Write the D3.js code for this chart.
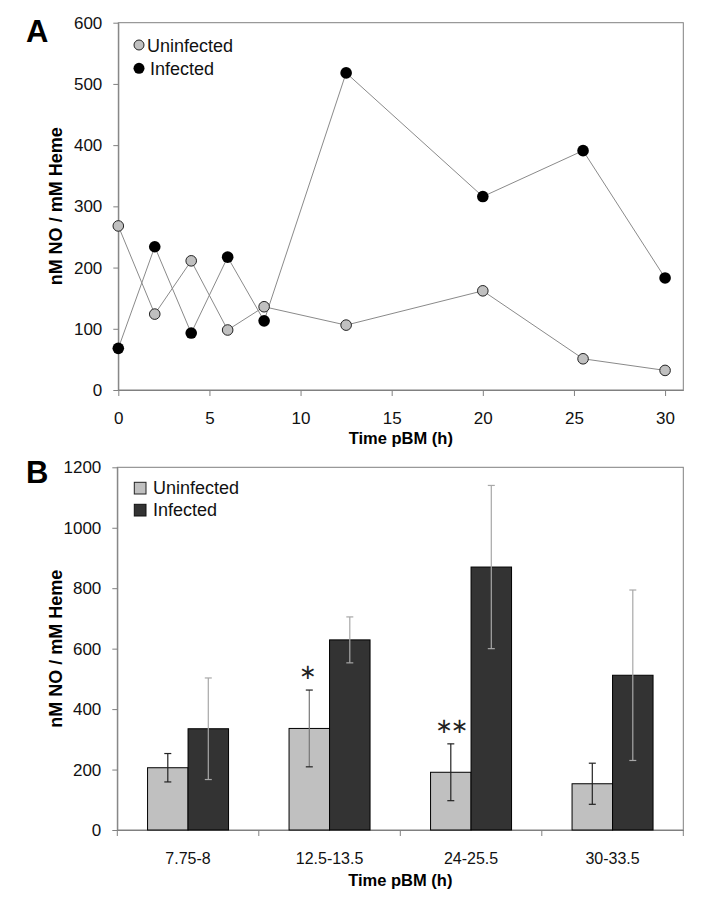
<!DOCTYPE html>
<html>
<head>
<meta charset="utf-8">
<script src="https://cdn.jsdelivr.net/npm/d3@7"></script>
<style>
  html, body { margin: 0; padding: 0; background: #fff; }
  svg { display: block; font-family: "Liberation Sans", Arial, sans-serif; }
</style>
</head>
<body>
<svg id="chart" width="703" height="911"></svg>
<script>
// ---------- Panel A data ----------
const timesA = [0, 2, 4, 6, 8, 12.5, 20, 25.5, 30];
const uninfectedA = [268, 124, 211, 98, 136, 106, 162, 51, 32];
const infectedA = [68, 234, 93, 217, 113, 518, 316, 391, 183];
const yTicksA = [0, 100, 200, 300, 400, 500, 600];
const xTicksA = [0, 5, 10, 15, 20, 25, 30];

// ---------- Panel B data ----------
const categoriesB = ["7.75-8", "12.5-13.5", "24-25.5", "30-33.5"];
const seriesB = ["Uninfected", "Infected"];
const uninfectedB = [206, 336, 191, 153];
const uninfectedErrB = [47, 127, 94, 68];
const infectedB = [335, 629, 870, 512];
const infectedErrB = [168, 76, 270, 282];
const significanceB = ["", "*", "**", ""];
const yTicksB = [0, 200, 400, 600, 800, 1000, 1200];

const svg = d3.select("#chart");
const axisColor = "#808080";
const lightFill = "#c0c0c0";
const darkFill = "#333333";
const fmt = d3.format("d");

function styleAxis(g) {
  g.select(".domain").attr("stroke", axisColor);
  g.selectAll(".tick line").attr("stroke", axisColor);
  g.selectAll(".tick text").attr("fill", "#111").style("font-size", "17px")
    .style("font-family", "'Liberation Sans', Arial, sans-serif");
}

// ================= Panel A =================
const A = { left: 118.3, right: 683.3, top: 22.7, bottom: 390 };
const xA = d3.scaleLinear().domain([0, 31]).range([A.left, A.right]);
const yA = d3.scaleLinear().domain([0, 600]).range([A.bottom, A.top]);

svg.append("rect").attr("x", A.left).attr("y", A.top)
  .attr("width", A.right - A.left).attr("height", A.bottom - A.top)
  .attr("fill", "none").attr("stroke", axisColor);

svg.append("g").attr("transform", `translate(0,${A.bottom})`)
  .call(d3.axisBottom(xA).tickValues(xTicksA).tickFormat(fmt).tickSize(6).tickPadding(16).tickSizeOuter(0))
  .call(styleAxis);
svg.append("g").attr("transform", `translate(${A.left},0)`)
  .call(d3.axisLeft(yA).tickValues(yTicksA).tickFormat(fmt).tickSize(5).tickPadding(11).tickSizeOuter(0))
  .call(styleAxis);

const lineA = d3.line().x(d => xA(d[0])).y(d => yA(d[1]));
const uData = timesA.map((t, i) => [t, uninfectedA[i]]);
const iData = timesA.map((t, i) => [t, infectedA[i]]);

svg.append("path").datum(uData).attr("d", lineA)
  .attr("fill", "none").attr("stroke", "#8a8a8a").attr("stroke-width", 1);
svg.append("path").datum(iData).attr("d", lineA)
  .attr("fill", "none").attr("stroke", "#8a8a8a").attr("stroke-width", 1);

svg.append("g").selectAll("circle").data(uData).join("circle")
  .attr("cx", d => xA(d[0])).attr("cy", d => yA(d[1])).attr("r", 5.3)
  .attr("fill", lightFill).attr("stroke", "#222").attr("stroke-width", 1);
svg.append("g").selectAll("circle").data(iData).join("circle")
  .attr("cx", d => xA(d[0])).attr("cy", d => yA(d[1])).attr("r", 5.8)
  .attr("fill", "#000");

// legend A
const legA = svg.append("g");
legA.append("circle").attr("cx", 139).attr("cy", 45).attr("r", 5)
  .attr("fill", lightFill).attr("stroke", "#222");
legA.append("text").attr("x", 147).attr("y", 51.7).text(seriesB[0])
  .style("font-size", "18px").attr("fill", "#111");
legA.append("circle").attr("cx", 139).attr("cy", 68.3).attr("r", 5.5).attr("fill", "#000");
legA.append("text").attr("x", 150).attr("y", 75).text(seriesB[1])
  .style("font-size", "18px").attr("fill", "#111");

// titles A
svg.append("text").attr("x", (A.left + A.right) / 2).attr("y", 443.5)
  .attr("text-anchor", "middle").style("font-size", "16.5px").style("font-weight", "bold")
  .text("Time pBM (h)");
svg.append("text").attr("transform", `translate(61.5,${(A.top + A.bottom) / 2}) rotate(-90)`)
  .attr("text-anchor", "middle").style("font-size", "18px").style("font-weight", "bold")
  .text("nM NO / mM Heme");
svg.append("text").attr("x", 26).attr("y", 42.3)
  .style("font-size", "31px").style("font-weight", "bold").text("A");

// ================= Panel B =================
const B = { left: 117.3, right: 683.3, top: 467.3, bottom: 830 };
const xB = d3.scaleBand().domain(categoriesB).range([B.left, B.right]).padding(0);
const bw = xB.bandwidth();
const sub = d3.scaleBand().domain(seriesB).range([bw * 0.2138, bw * 0.7862]).padding(0);
const yB = d3.scaleLinear().domain([0, 1200]).range([B.bottom, B.top]);

svg.append("rect").attr("x", B.left).attr("y", B.top)
  .attr("width", B.right - B.left).attr("height", B.bottom - B.top)
  .attr("fill", "none").attr("stroke", axisColor);

// x axis: ticks at band boundaries
const bottomAxis = d3.axisBottom(xB).tickSize(0).tickPadding(23).tickSizeOuter(0);
svg.append("g").attr("transform", `translate(0,${B.bottom})`)
  .call(bottomAxis).call(styleAxis)
  .call(g => g.selectAll(".tick text").style("font-size", "16px"));
const boundaries = categoriesB.map(c => xB(c)).concat([B.right]);
svg.append("g").selectAll("line").data(boundaries).join("line")
  .attr("x1", d => d).attr("x2", d => d).attr("y1", B.bottom).attr("y2", B.bottom + 6)
  .attr("stroke", axisColor);

svg.append("g").attr("transform", `translate(${B.left},0)`)
  .call(d3.axisLeft(yB).tickValues(yTicksB).tickFormat(fmt).tickSize(5).tickPadding(11).tickSizeOuter(0))
  .call(styleAxis);

const rows = [];
categoriesB.forEach((c, i) => {
  rows.push({ cat: c, s: seriesB[0], v: uninfectedB[i], e: uninfectedErrB[i], fill: lightFill, err: i === 1 ? "#777" : "#222" });
  rows.push({ cat: c, s: seriesB[1], v: infectedB[i], e: infectedErrB[i], fill: darkFill, err: "#a8a8a8" });
});

const barG = svg.append("g");
barG.selectAll("rect").data(rows).join("rect")
  .attr("x", d => xB(d.cat) + sub(d.s)).attr("width", sub.bandwidth())
  .attr("y", d => yB(d.v)).attr("height", d => yB(0) - yB(d.v))
  .attr("fill", d => d.fill).attr("stroke", "#000").attr("stroke-width", 1);

const errG = svg.append("g");
rows.forEach(d => {
  const cx = xB(d.cat) + sub(d.s) + sub.bandwidth() / 2;
  const y1 = yB(d.v + d.e), y2 = yB(d.v - d.e);
  errG.append("line").attr("x1", cx).attr("x2", cx).attr("y1", y1).attr("y2", y2)
    .attr("stroke", d.err).attr("stroke-width", 1.2);
  [y1, y2].forEach(y => errG.append("line").attr("x1", cx - 3.5).attr("x2", cx + 3.5)
    .attr("y1", y).attr("y2", y).attr("stroke", d.err === "#777" ? "#222" : d.err).attr("stroke-width", 1.2));
});

// significance stars
categoriesB.forEach((c, i) => {
  const n = significanceB[i].length;
  if (!n) return;
  const cx = xB(c) + sub(seriesB[0]) + sub.bandwidth() / 2;
  const top = yB(uninfectedB[i] + uninfectedErrB[i]);
  svg.append("text").attr("x", cx - (n === 1 ? 2.5 : 0)).attr("y", top - 11)
    .attr("text-anchor", "middle")
    .style("font-family", "'DejaVu Sans', sans-serif").style("font-size", "21px")
    .style("letter-spacing", "-2px")
    .attr("fill", "#222")
    .text(significanceB[i].replace(/\*/g, "\u2217"));
});

// legend B
const legB = svg.append("g");
legB.append("rect").attr("x", 134.3).attr("y", 482.3).attr("width", 11.7).attr("height", 11.7)
  .attr("fill", lightFill).attr("stroke", "#222");
legB.append("text").attr("x", 153).attr("y", 493.5).text(seriesB[0])
  .style("font-size", "18px").attr("fill", "#111");
legB.append("rect").attr("x", 134.3).attr("y", 504.3).attr("width", 11.7).attr("height", 11.7)
  .attr("fill", darkFill).attr("stroke", "#111");
legB.append("text").attr("x", 153).attr("y", 515.5).text(seriesB[1])
  .style("font-size", "18px").attr("fill", "#111");

// titles B
svg.append("text").attr("x", (B.left + B.right) / 2).attr("y", 886)
  .attr("text-anchor", "middle").style("font-size", "16.5px").style("font-weight", "bold")
  .text("Time pBM (h)");
svg.append("text").attr("transform", `translate(61.5,${(B.top + B.bottom) / 2}) rotate(-90)`)
  .attr("text-anchor", "middle").style("font-size", "18px").style("font-weight", "bold")
  .text("nM NO / mM Heme");
svg.append("text").attr("x", 26).attr("y", 482.7)
  .style("font-size", "31px").style("font-weight", "bold").text("B");
</script>
</body>
</html>
